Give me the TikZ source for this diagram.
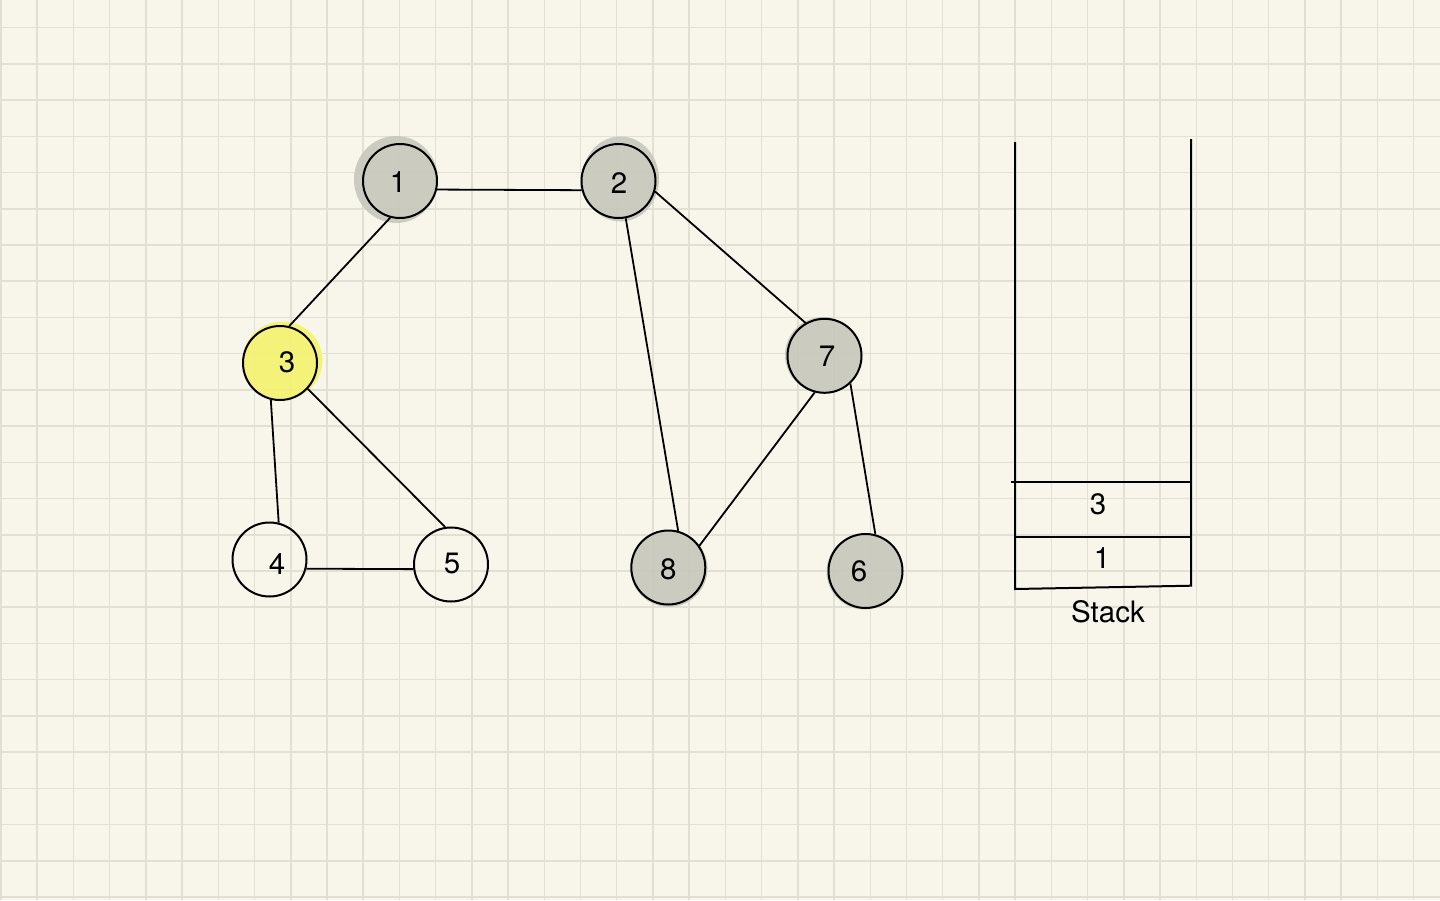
\documentclass[tikz,border=0pt]{standalone}
\usepackage{fontspec}
\setmainfont{TeX Gyre Heros}
\begin{document}
\begin{tikzpicture}[x=1pt,y=-1pt,
  vtx/.style={circle,draw=black,line width=2pt,minimum size=74pt,inner sep=0pt},
  numlbl/.style={font=\fontsize{29.5}{33}\selectfont,inner sep=0pt},
  edge/.style={line width=1.8pt,draw=black},
  blobg/.style={fill=hlgray,fill opacity=0.9},
  bloby/.style={fill=hlyellow,fill opacity=0.9},
  stackline/.style={line width=2pt,draw=black}]
\definecolor{bg}{RGB}{248,246,234}
\definecolor{gridc}{RGB}{226,224,212}
\definecolor{hlgray}{RGB}{200,199,188}
\definecolor{hlyellow}{RGB}{245,242,110}
\useasboundingbox (0,0) rectangle (1440,900);
\fill[bg] (0,0) rectangle (1440,900);
\foreach \i in {0,...,40} {\draw[gridc,line width=1.5pt] ({1+\i*36.22},0) -- ({1+\i*36.22},900);}
\foreach \j in {0,...,24} {\draw[gridc,line width=1.5pt] (0,{27.7+\j*36.22}) -- (1440,{27.7+\j*36.22});}
% highlight blobs
\fill[blobg] (396,179.5) ellipse [x radius=42, y radius=43.5];
\fill[blobg] (620.5,179) ellipse [x radius=38.5, y radius=42.5];
\fill[bloby] (282.5,360.5) ellipse [x radius=40, y radius=39];
\fill[blobg] (823,355) circle [radius=38];
\fill[blobg] (669,568.5) circle [radius=38.5];
\fill[blobg] (864.5,571.5) circle [radius=38];
% vertices
\node[vtx,label={[numlbl,xshift=-2pt,yshift=-0.7pt]center:1}] (n1) at (400,181) {};
\node[vtx,label={[numlbl,xshift=0.5pt,yshift=-2pt]center:2}] (n2) at (618.5,181) {};
\node[vtx,label={[numlbl,xshift=7pt,yshift=1pt]center:3}] (n3) at (280,363) {};
\node[vtx,label={[numlbl,xshift=7.5pt,yshift=-4.5pt]center:4}] (n4) at (269.5,559.5) {};
\node[vtx,label={[numlbl,xshift=1pt,yshift=1.5pt]center:5}] (n5) at (451,564.5) {};
\node[vtx,label={[numlbl,xshift=2.5pt]center:7}] (n7) at (824.5,355.8) {};
\node[vtx,label={[numlbl,yshift=-1.5pt]center:8}] (n8) at (668.3,567.5) {};
\node[vtx,label={[numlbl,xshift=-6.5pt]center:6}] (n6) at (865.5,571) {};
% edges
\draw[edge] (n1.-13.3) -- (n2.-166.8);
\draw[edge] (n1.-105.1) -- (n3.76);
\draw[edge] (n2.-79.2) -- (n8.75.5);
\draw[edge] (n2.-16.8) -- (n7.120.2);
\draw[edge] (n7.-105.8) -- (n8.35.5);
\draw[edge] (n7.-47.7) -- (n6.75.2);
\draw[edge] (n3.-104.9) -- (n4.76.7);
\draw[edge] (n3.-43.7) -- (n5.99.9);
\draw[edge] (n4.-14.3) -- (n5.-173.1);
% stack
\draw[stackline] (1015,142) -- (1015,589) -- (1191,585.7) -- (1191,139);
\draw[stackline] (1011,481.7) -- (1191,481.7);
\draw[stackline] (1015,537.3) -- (1191,537.3);
\node[numlbl] (s3) at (1098,504) {3};
\node[numlbl] (s1) at (1102,558) {1};
\node[numlbl] (stk) at (1108,612) {Stack};
\end{tikzpicture}
\end{document}
